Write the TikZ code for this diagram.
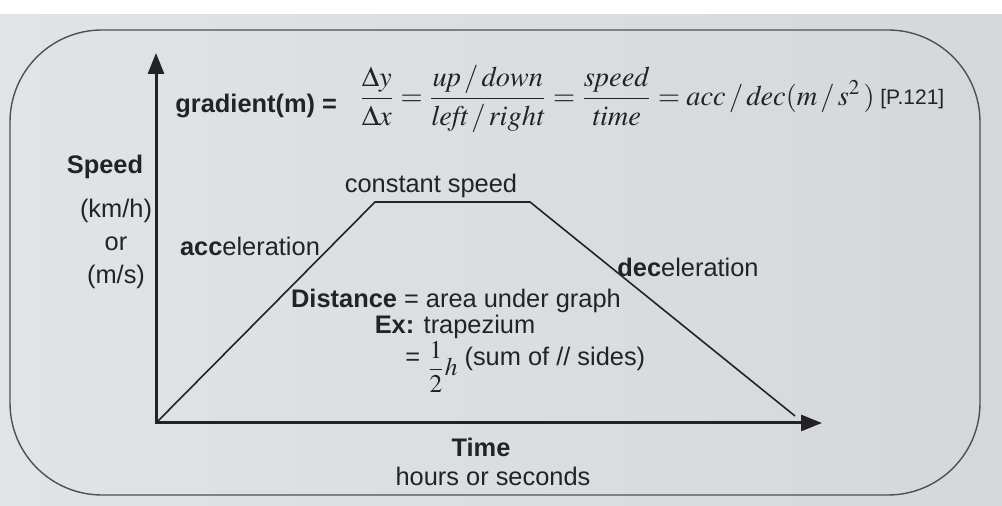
\documentclass[tikz,border=0pt]{standalone}
\usepackage{mathptmx}
\usepackage[no-math]{fontspec}
\setmainfont{Liberation Sans}
\usetikzlibrary{arrows.meta}
\definecolor{paper}{RGB}{224,228,231}
\definecolor{paperdark}{RGB}{212,216,218}
\definecolor{ink}{RGB}{35,35,38}
\definecolor{framec}{RGB}{80,80,84}
\begin{document}
\begin{tikzpicture}[x=0.5pt,y=-0.5pt,
  lbl/.style={text=ink,font=\fontsize{12.7}{16.5}\selectfont,inner sep=0pt,align=center},
  bl/.style={lbl,font=\fontsize{12.7}{16.5}\selectfont\bfseries},
  mth/.style={text=ink,inner sep=0pt,font=\fontsize{14.2}{17}\selectfont},
  axisline/.style={draw=ink,line width=1.5pt,{Triangle[length=10.5pt,width=8pt]}-{Triangle[length=10.5pt,width=8pt]}},
  graphline/.style={draw=ink,line width=0.8pt},
  framebox/.style={draw=framec,line width=0.7pt,rounded corners=46pt}]
\useasboundingbox (0,0) rectangle (1002,506);
\shade[left color=paper,right color=paperdark] (0,14) rectangle (1002,506);
\fill[white] (0,0) rectangle (1002,14);
\draw[framebox] (10,30) rectangle (980,495);
% axes and graph
\coordinate (O) at (156,423);
\coordinate (Ytip) at (156,53);
\coordinate (Xtip) at (822,423);
\coordinate (A) at (375,202);
\coordinate (B) at (530,202);
\coordinate (C) at (795,416);
\draw[graphline] (O) -- (A) -- (B) -- (C);
\draw[axisline] (Ytip) -- (O) -- (Xtip);
% formula
\node[bl,anchor=west] (grad) at (175,106) {gradient(m) =};
\node[mth,anchor=west] (formula) at (359,99) {$\displaystyle \frac{\Delta y}{\Delta x}=\frac{\mathit{up}\,/\,\mathit{down}}{\mathit{left}\,/\,\mathit{right}}=\frac{\mathit{speed}}{\mathit{time}}=\mathit{acc}\,/\,\mathit{dec}(m\,/\,s^2\,)$};
\node[lbl,anchor=west,font=\fontsize{10.5}{12}\selectfont] (pref) at (880,99) {[P.121]};
% axis labels
\node[bl] (speed) at (105,167) {Speed};
\node[lbl] (units) at (116,244) {(km/h)\\or\\(m/s)};
\node[bl] (time) at (481,447) {Time};
\node[lbl] (hours) at (493,476) {hours or seconds};
% graph labels
\node[lbl] (accl) at (250,246) {\textbf{acc}eleration};
\node[lbl] (const) at (431,186) {constant speed};
\node[lbl] (decl) at (688,267) {\textbf{dec}eleration};
\node[lbl] (dist) at (456,301) {\textbf{Distance} = area under graph};
\node[lbl] (ex) at (455,327) {\textbf{Ex:} trapezium};
\node[lbl,anchor=west] (trap) at (405,367) {= \raisebox{-5pt}{\fontsize{12.7}{15}\selectfont$\displaystyle\frac{1}{2}h$} (sum of // sides)};
\end{tikzpicture}
\end{document}
